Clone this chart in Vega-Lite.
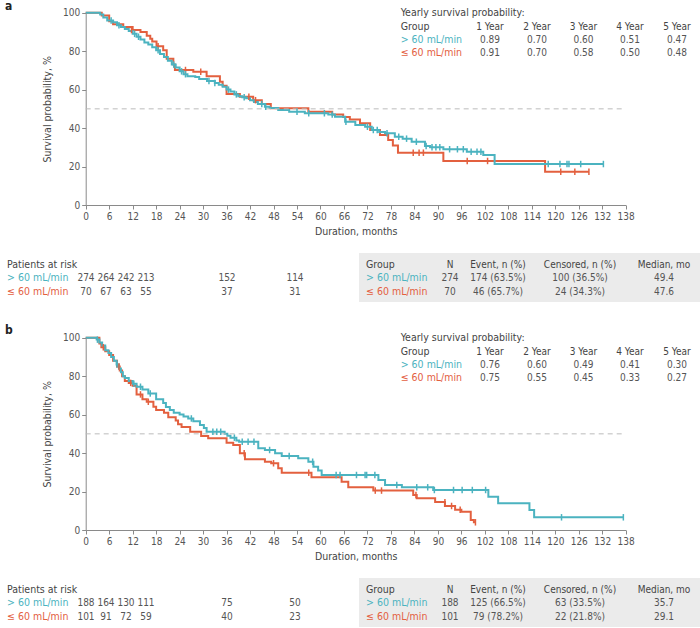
{
"$schema": "https://vega.github.io/schema/vega-lite/v6.json",
"width": 700, "height": 628,
"autosize": {"type": "none"},
"padding": 0,
"background": "white",
"config": {
 "font": "DejaVu Sans Condensed",
 "view": {"stroke": null},
 "axis": {"grid": false, "domainColor": "#8a8a8a", "tickColor": "#8a8a8a", "tickSize": 4, "labelColor": "#555555", "labelFontSize": 10, "titleFontSize": 10.5, "titleColor": "#444444", "titleFontWeight": "normal", "labelPadding": 2, "labelOverlap": false, "labelFlush": false, "labelBound": false}
},
"datasets": {
 "kmA": [
  {"g":"≤ 60 mL/min","m":0,"s":100},{"g":"≤ 60 mL/min","m":4.1,"s":98.5},{"g":"≤ 60 mL/min","m":6,"s":95.5},{"g":"≤ 60 mL/min","m":7,"s":94},{"g":"≤ 60 mL/min","m":9.6,"s":92.5},{"g":"≤ 60 mL/min","m":12,"s":91},{"g":"≤ 60 mL/min","m":14,"s":90},{"g":"≤ 60 mL/min","m":15.6,"s":88},{"g":"≤ 60 mL/min","m":16.5,"s":86.5},{"g":"≤ 60 mL/min","m":17,"s":85},{"g":"≤ 60 mL/min","m":18.1,"s":82.5},{"g":"≤ 60 mL/min","m":19.8,"s":80.5},{"g":"≤ 60 mL/min","m":20.7,"s":76},{"g":"≤ 60 mL/min","m":22.4,"s":73},{"g":"≤ 60 mL/min","m":22.8,"s":70.2},{"g":"≤ 60 mL/min","m":27.5,"s":69.3},{"g":"≤ 60 mL/min","m":30.9,"s":67},{"g":"≤ 60 mL/min","m":34.3,"s":64.1},{"g":"≤ 60 mL/min","m":35,"s":62},{"g":"≤ 60 mL/min","m":36,"s":57.7},{"g":"≤ 60 mL/min","m":39.4,"s":56.3},{"g":"≤ 60 mL/min","m":42.8,"s":54.5},{"g":"≤ 60 mL/min","m":45,"s":52.5},{"g":"≤ 60 mL/min","m":47.3,"s":50.3},{"g":"≤ 60 mL/min","m":56.9,"s":48.5},{"g":"≤ 60 mL/min","m":63,"s":47},{"g":"≤ 60 mL/min","m":65.8,"s":45.8},{"g":"≤ 60 mL/min","m":67.5,"s":44.5},{"g":"≤ 60 mL/min","m":70.1,"s":42.5},{"g":"≤ 60 mL/min","m":72.7,"s":39},{"g":"≤ 60 mL/min","m":75.2,"s":36.4},{"g":"≤ 60 mL/min","m":77.3,"s":33.8},{"g":"≤ 60 mL/min","m":78.5,"s":31},{"g":"≤ 60 mL/min","m":79.8,"s":27.2},{"g":"≤ 60 mL/min","m":91.4,"s":22.9},{"g":"≤ 60 mL/min","m":117.4,"s":17.3},{"g":"≤ 60 mL/min","m":128.6,"s":17.3},
  {"g":"> 60 mL/min","m":0,"s":100},{"g":"> 60 mL/min","m":3.7,"s":99},{"g":"> 60 mL/min","m":4.5,"s":97.5},{"g":"> 60 mL/min","m":5.5,"s":96},{"g":"> 60 mL/min","m":7,"s":95},{"g":"> 60 mL/min","m":8,"s":93.5},{"g":"> 60 mL/min","m":9,"s":92.5},{"g":"> 60 mL/min","m":10,"s":91.5},{"g":"> 60 mL/min","m":11,"s":90.5},{"g":"> 60 mL/min","m":12,"s":89},{"g":"> 60 mL/min","m":13,"s":87.5},{"g":"> 60 mL/min","m":14,"s":86},{"g":"> 60 mL/min","m":15,"s":84.5},{"g":"> 60 mL/min","m":16,"s":83.5},{"g":"> 60 mL/min","m":17,"s":82},{"g":"> 60 mL/min","m":18,"s":80.5},{"g":"> 60 mL/min","m":19,"s":78.5},{"g":"> 60 mL/min","m":20,"s":77},{"g":"> 60 mL/min","m":21,"s":75},{"g":"> 60 mL/min","m":22,"s":73},{"g":"> 60 mL/min","m":23,"s":71.5},{"g":"> 60 mL/min","m":24,"s":69.5},{"g":"> 60 mL/min","m":25,"s":68},{"g":"> 60 mL/min","m":26,"s":67},{"g":"> 60 mL/min","m":28,"s":66.5},{"g":"> 60 mL/min","m":29,"s":65.5},{"g":"> 60 mL/min","m":31,"s":64.5},{"g":"> 60 mL/min","m":33,"s":63.5},{"g":"> 60 mL/min","m":34,"s":62.5},{"g":"> 60 mL/min","m":35,"s":61.5},{"g":"> 60 mL/min","m":36,"s":60},{"g":"> 60 mL/min","m":37,"s":59},{"g":"> 60 mL/min","m":38,"s":57.5},{"g":"> 60 mL/min","m":39,"s":56.5},{"g":"> 60 mL/min","m":40,"s":56},{"g":"> 60 mL/min","m":41,"s":55.5},{"g":"> 60 mL/min","m":42,"s":54.5},{"g":"> 60 mL/min","m":43,"s":53.5},{"g":"> 60 mL/min","m":44,"s":52.5},{"g":"> 60 mL/min","m":45.8,"s":51.1},{"g":"> 60 mL/min","m":47,"s":50.5},{"g":"> 60 mL/min","m":49.2,"s":49.4},{"g":"> 60 mL/min","m":52,"s":48.5},{"g":"> 60 mL/min","m":56,"s":47.7},{"g":"> 60 mL/min","m":62,"s":47},{"g":"> 60 mL/min","m":63.7,"s":45.9},{"g":"> 60 mL/min","m":66.3,"s":43.3},{"g":"> 60 mL/min","m":68.9,"s":41.6},{"g":"> 60 mL/min","m":71.4,"s":40.7},{"g":"> 60 mL/min","m":73.1,"s":39},{"g":"> 60 mL/min","m":75,"s":38},{"g":"> 60 mL/min","m":76.5,"s":37.3},{"g":"> 60 mL/min","m":79,"s":35.5},{"g":"> 60 mL/min","m":81,"s":34.5},{"g":"> 60 mL/min","m":83.3,"s":32.9},{"g":"> 60 mL/min","m":86.7,"s":30.7},{"g":"> 60 mL/min","m":88,"s":30},{"g":"> 60 mL/min","m":91.4,"s":29},{"g":"> 60 mL/min","m":97.4,"s":27.7},{"g":"> 60 mL/min","m":101.6,"s":26},{"g":"> 60 mL/min","m":104.5,"s":21.3},{"g":"> 60 mL/min","m":132.3,"s":21.3}
 ],
 "cenA": [
  {"g":"≤ 60 mL/min","m":11.7,"s":91},{"g":"≤ 60 mL/min","m":18.5,"s":82.5},{"g":"≤ 60 mL/min","m":25.5,"s":70.2},{"g":"≤ 60 mL/min","m":29.4,"s":69.3},{"g":"≤ 60 mL/min","m":41.7,"s":56.3},{"g":"≤ 60 mL/min","m":43.4,"s":54.5},{"g":"≤ 60 mL/min","m":83.7,"s":27.2},{"g":"≤ 60 mL/min","m":85.2,"s":27.2},{"g":"≤ 60 mL/min","m":86.3,"s":27.2},{"g":"≤ 60 mL/min","m":97.5,"s":22.9},{"g":"≤ 60 mL/min","m":102.7,"s":22.9},{"g":"≤ 60 mL/min","m":121.4,"s":17.3},{"g":"≤ 60 mL/min","m":125,"s":17.3},{"g":"≤ 60 mL/min","m":128.6,"s":17.3},
  {"g":"> 60 mL/min","m":6.5,"s":96},{"g":"> 60 mL/min","m":8.5,"s":93.5},{"g":"> 60 mL/min","m":12.5,"s":89},{"g":"> 60 mL/min","m":13.5,"s":87.5},{"g":"> 60 mL/min","m":18.5,"s":80.5},{"g":"> 60 mL/min","m":22.5,"s":73},{"g":"> 60 mL/min","m":24.5,"s":69.5},{"g":"> 60 mL/min","m":25.5,"s":68},{"g":"> 60 mL/min","m":31.5,"s":64.5},{"g":"> 60 mL/min","m":33,"s":63.5},{"g":"> 60 mL/min","m":36.5,"s":60},{"g":"> 60 mL/min","m":38.5,"s":57.5},{"g":"> 60 mL/min","m":40.5,"s":56},{"g":"> 60 mL/min","m":45,"s":52.5},{"g":"> 60 mL/min","m":46,"s":51.1},{"g":"> 60 mL/min","m":54,"s":48.5},{"g":"> 60 mL/min","m":57,"s":47.7},{"g":"> 60 mL/min","m":61,"s":47.7},{"g":"> 60 mL/min","m":63,"s":47},{"g":"> 60 mL/min","m":66.5,"s":43.3},{"g":"> 60 mL/min","m":72,"s":40.7},{"g":"> 60 mL/min","m":73.5,"s":39},{"g":"> 60 mL/min","m":74.5,"s":39},{"g":"> 60 mL/min","m":77,"s":37.3},{"g":"> 60 mL/min","m":80,"s":35.5},{"g":"> 60 mL/min","m":82,"s":34.5},{"g":"> 60 mL/min","m":84.5,"s":32.9},{"g":"> 60 mL/min","m":87,"s":30.7},{"g":"> 60 mL/min","m":88.5,"s":30},{"g":"> 60 mL/min","m":89.5,"s":30},{"g":"> 60 mL/min","m":90.5,"s":30},{"g":"> 60 mL/min","m":93,"s":29},{"g":"> 60 mL/min","m":95,"s":29},{"g":"> 60 mL/min","m":96.5,"s":29},{"g":"> 60 mL/min","m":98.5,"s":27.7},{"g":"> 60 mL/min","m":100,"s":27.7},{"g":"> 60 mL/min","m":101,"s":27.7},{"g":"> 60 mL/min","m":118.2,"s":21.3},{"g":"> 60 mL/min","m":121.2,"s":21.3},{"g":"> 60 mL/min","m":123,"s":21.3},{"g":"> 60 mL/min","m":123.5,"s":21.3},{"g":"> 60 mL/min","m":126.5,"s":21.3},{"g":"> 60 mL/min","m":132.3,"s":21.3}
 ],
 "kmB": [
  {"g":"≤ 60 mL/min","m":0,"s":100},{"g":"≤ 60 mL/min","m":3.5,"s":97},{"g":"≤ 60 mL/min","m":4,"s":95},{"g":"≤ 60 mL/min","m":5,"s":93},{"g":"≤ 60 mL/min","m":6,"s":91},{"g":"≤ 60 mL/min","m":7,"s":88},{"g":"≤ 60 mL/min","m":8,"s":85},{"g":"≤ 60 mL/min","m":8.7,"s":83},{"g":"≤ 60 mL/min","m":9.3,"s":80},{"g":"≤ 60 mL/min","m":10,"s":77.5},{"g":"≤ 60 mL/min","m":11,"s":76.5},{"g":"≤ 60 mL/min","m":12,"s":75},{"g":"≤ 60 mL/min","m":13,"s":70.5},{"g":"≤ 60 mL/min","m":14.5,"s":68},{"g":"≤ 60 mL/min","m":15.6,"s":66.7},{"g":"≤ 60 mL/min","m":17.3,"s":64.1},{"g":"≤ 60 mL/min","m":18,"s":62.4},{"g":"≤ 60 mL/min","m":20,"s":61},{"g":"≤ 60 mL/min","m":21.1,"s":58.6},{"g":"≤ 60 mL/min","m":23,"s":57},{"g":"≤ 60 mL/min","m":23.6,"s":55},{"g":"≤ 60 mL/min","m":24.5,"s":53.5},{"g":"≤ 60 mL/min","m":26.7,"s":51.1},{"g":"≤ 60 mL/min","m":29.5,"s":48.9},{"g":"≤ 60 mL/min","m":31.3,"s":47.7},{"g":"≤ 60 mL/min","m":36,"s":45.4},{"g":"≤ 60 mL/min","m":37.7,"s":44.2},{"g":"≤ 60 mL/min","m":39.4,"s":39.9},{"g":"≤ 60 mL/min","m":40.7,"s":36.8},{"g":"≤ 60 mL/min","m":45.8,"s":35.5},{"g":"≤ 60 mL/min","m":47.4,"s":34.7},{"g":"≤ 60 mL/min","m":49.2,"s":32.1},{"g":"≤ 60 mL/min","m":50.1,"s":29.8},{"g":"≤ 60 mL/min","m":57.7,"s":27.4},{"g":"≤ 60 mL/min","m":65.4,"s":25.1},{"g":"≤ 60 mL/min","m":67.1,"s":22.2},{"g":"≤ 60 mL/min","m":73.5,"s":20.5},{"g":"≤ 60 mL/min","m":83.7,"s":18.2},{"g":"≤ 60 mL/min","m":84.6,"s":16.5},{"g":"≤ 60 mL/min","m":89.3,"s":14.5},{"g":"≤ 60 mL/min","m":91.8,"s":12.5},{"g":"≤ 60 mL/min","m":94.4,"s":10.5},{"g":"≤ 60 mL/min","m":96,"s":9.5},{"g":"≤ 60 mL/min","m":98.4,"s":5.2},{"g":"≤ 60 mL/min","m":99.2,"s":4},{"g":"≤ 60 mL/min","m":99.6,"s":4},
  {"g":"> 60 mL/min","m":0,"s":100},{"g":"> 60 mL/min","m":2.8,"s":99},{"g":"> 60 mL/min","m":3.5,"s":97.5},{"g":"> 60 mL/min","m":4.2,"s":96},{"g":"> 60 mL/min","m":5,"s":93.5},{"g":"> 60 mL/min","m":5.8,"s":92},{"g":"> 60 mL/min","m":6.5,"s":90},{"g":"> 60 mL/min","m":7.2,"s":88},{"g":"> 60 mL/min","m":7.9,"s":86},{"g":"> 60 mL/min","m":8.5,"s":84},{"g":"> 60 mL/min","m":9,"s":82},{"g":"> 60 mL/min","m":9.5,"s":80},{"g":"> 60 mL/min","m":10,"s":79},{"g":"> 60 mL/min","m":11,"s":77.5},{"g":"> 60 mL/min","m":12,"s":76},{"g":"> 60 mL/min","m":13,"s":74.5},{"g":"> 60 mL/min","m":14.5,"s":73},{"g":"> 60 mL/min","m":16,"s":71},{"g":"> 60 mL/min","m":18,"s":68},{"g":"> 60 mL/min","m":19.8,"s":66},{"g":"> 60 mL/min","m":20.5,"s":64},{"g":"> 60 mL/min","m":21.5,"s":62.4},{"g":"> 60 mL/min","m":22.5,"s":61},{"g":"> 60 mL/min","m":24,"s":60},{"g":"> 60 mL/min","m":25,"s":59},{"g":"> 60 mL/min","m":26.2,"s":58},{"g":"> 60 mL/min","m":27.5,"s":56.5},{"g":"> 60 mL/min","m":29.2,"s":54.6},{"g":"> 60 mL/min","m":30.2,"s":53},{"g":"> 60 mL/min","m":30.9,"s":51.1},{"g":"> 60 mL/min","m":35.5,"s":50},{"g":"> 60 mL/min","m":36.2,"s":49},{"g":"> 60 mL/min","m":37,"s":48},{"g":"> 60 mL/min","m":38.5,"s":46.5},{"g":"> 60 mL/min","m":39.2,"s":45.9},{"g":"> 60 mL/min","m":44.1,"s":42.5},{"g":"> 60 mL/min","m":45.8,"s":41.6},{"g":"> 60 mL/min","m":48.4,"s":39.9},{"g":"> 60 mL/min","m":50.1,"s":38.5},{"g":"> 60 mL/min","m":54.3,"s":37.3},{"g":"> 60 mL/min","m":56.9,"s":35.5},{"g":"> 60 mL/min","m":58.2,"s":32.9},{"g":"> 60 mL/min","m":59.4,"s":31},{"g":"> 60 mL/min","m":60.3,"s":28.6},{"g":"> 60 mL/min","m":74.8,"s":26},{"g":"> 60 mL/min","m":76.5,"s":23.4},{"g":"> 60 mL/min","m":80.8,"s":22.2},{"g":"> 60 mL/min","m":88.8,"s":20.8},{"g":"> 60 mL/min","m":102.9,"s":17.3},{"g":"> 60 mL/min","m":105.4,"s":13.9},{"g":"> 60 mL/min","m":113.4,"s":10.4},{"g":"> 60 mL/min","m":114.6,"s":6.6},{"g":"> 60 mL/min","m":137.4,"s":6.6}
 ],
 "cenB": [
  {"g":"≤ 60 mL/min","m":4.5,"s":95},{"g":"≤ 60 mL/min","m":8.5,"s":85},{"g":"≤ 60 mL/min","m":11.5,"s":76.5},{"g":"≤ 60 mL/min","m":14,"s":70.5},{"g":"≤ 60 mL/min","m":16,"s":66.7},{"g":"≤ 60 mL/min","m":40.5,"s":39.9},{"g":"≤ 60 mL/min","m":48,"s":34.7},{"g":"≤ 60 mL/min","m":57,"s":29.8},{"g":"≤ 60 mL/min","m":74,"s":20.5},{"g":"≤ 60 mL/min","m":75.6,"s":20.5},{"g":"≤ 60 mL/min","m":84.4,"s":18.2},{"g":"≤ 60 mL/min","m":91.8,"s":14.5},{"g":"≤ 60 mL/min","m":93.5,"s":12.5},{"g":"≤ 60 mL/min","m":95.7,"s":10.5},{"g":"≤ 60 mL/min","m":99.6,"s":4},
  {"g":"> 60 mL/min","m":3,"s":99},{"g":"> 60 mL/min","m":8,"s":86},{"g":"> 60 mL/min","m":12.3,"s":76},{"g":"> 60 mL/min","m":14,"s":74.5},{"g":"> 60 mL/min","m":16.5,"s":71},{"g":"> 60 mL/min","m":27,"s":58},{"g":"> 60 mL/min","m":32.5,"s":51.1},{"g":"> 60 mL/min","m":33.5,"s":51.1},{"g":"> 60 mL/min","m":34.5,"s":51.1},{"g":"> 60 mL/min","m":38,"s":48},{"g":"> 60 mL/min","m":40,"s":45.9},{"g":"> 60 mL/min","m":41.5,"s":45.9},{"g":"> 60 mL/min","m":43,"s":45.9},{"g":"> 60 mL/min","m":47,"s":41.6},{"g":"> 60 mL/min","m":52,"s":38.5},{"g":"> 60 mL/min","m":58,"s":35.5},{"g":"> 60 mL/min","m":64,"s":28.6},{"g":"> 60 mL/min","m":65,"s":28.6},{"g":"> 60 mL/min","m":69.2,"s":28.6},{"g":"> 60 mL/min","m":71.4,"s":28.6},{"g":"> 60 mL/min","m":71.8,"s":28.6},{"g":"> 60 mL/min","m":73.9,"s":28.6},{"g":"> 60 mL/min","m":79.5,"s":23.4},{"g":"> 60 mL/min","m":84.6,"s":22.2},{"g":"> 60 mL/min","m":87.4,"s":22.2},{"g":"> 60 mL/min","m":89.1,"s":20.8},{"g":"> 60 mL/min","m":94,"s":20.8},{"g":"> 60 mL/min","m":96.2,"s":20.8},{"g":"> 60 mL/min","m":98.8,"s":20.8},{"g":"> 60 mL/min","m":102.2,"s":20.8},{"g":"> 60 mL/min","m":121.6,"s":6.6},{"g":"> 60 mL/min","m":137.4,"s":6.6}
 ],
 "txt": [
  {"c":0,"r":0,"t":"a","k":"panel"},
  {"c":10,"r":1,"t":"Yearly survival probability:","k":"title"},
  {"c":10,"r":2,"t":"Group","k":"title"},
  {"c":12,"r":2,"t":"1 Year","k":"colhead"},{"c":14,"r":2,"t":"2 Year","k":"colhead"},{"c":16,"r":2,"t":"3 Year","k":"colhead"},{"c":17,"r":2,"t":"4 Year","k":"colhead"},{"c":19,"r":2,"t":"5 Year","k":"colhead"},
  {"c":10,"r":3,"t":"> 60 mL/min","k":"group","g":"> 60 mL/min"},
  {"c":10,"r":4,"t":"≤ 60 mL/min","k":"group","g":"≤ 60 mL/min"},
  {"c":12,"r":3,"t":"0.89","k":"value"},{"c":14,"r":3,"t":"0.70","k":"value"},{"c":16,"r":3,"t":"0.60","k":"value"},{"c":17,"r":3,"t":"0.51","k":"value"},{"c":19,"r":3,"t":"0.47","k":"value"},
  {"c":12,"r":4,"t":"0.91","k":"value"},{"c":14,"r":4,"t":"0.70","k":"value"},{"c":16,"r":4,"t":"0.58","k":"value"},{"c":17,"r":4,"t":"0.50","k":"value"},{"c":19,"r":4,"t":"0.48","k":"value"},
  {"c":1,"r":6,"t":"Patients at risk","k":"title"},
  {"c":1,"r":7,"t":"> 60 mL/min","k":"group","g":"> 60 mL/min"},
  {"c":1,"r":8,"t":"≤ 60 mL/min","k":"group","g":"≤ 60 mL/min"},
  {"c":2,"r":7,"t":"274","k":"value"},{"c":3,"r":7,"t":"264","k":"value"},{"c":4,"r":7,"t":"242","k":"value"},{"c":5,"r":7,"t":"213","k":"value"},{"c":6,"r":7,"t":"152","k":"value"},{"c":7,"r":7,"t":"114","k":"value"},
  {"c":2,"r":8,"t":"70","k":"value"},{"c":3,"r":8,"t":"67","k":"value"},{"c":4,"r":8,"t":"63","k":"value"},{"c":5,"r":8,"t":"55","k":"value"},{"c":6,"r":8,"t":"37","k":"value"},{"c":7,"r":8,"t":"31","k":"value"},
  {"c":9,"r":6,"t":"Group","k":"title"},
  {"c":11,"r":6,"t":"N","k":"colhead"},{"c":13,"r":6,"t":"Event, n (%)","k":"colhead"},{"c":15,"r":6,"t":"Censored, n (%)","k":"colhead"},{"c":18,"r":6,"t":"Median, mo","k":"colhead"},
  {"c":9,"r":7,"t":"> 60 mL/min","k":"group","g":"> 60 mL/min"},
  {"c":11,"r":7,"t":"274","k":"value"},{"c":13,"r":7,"t":"174 (63.5%)","k":"value"},{"c":15,"r":7,"t":"100 (36.5%)","k":"value"},{"c":18,"r":7,"t":"49.4","k":"value"},
  {"c":9,"r":8,"t":"≤ 60 mL/min","k":"group","g":"≤ 60 mL/min"},
  {"c":11,"r":8,"t":"70","k":"value"},{"c":13,"r":8,"t":"46 (65.7%)","k":"value"},{"c":15,"r":8,"t":"24 (34.3%)","k":"value"},{"c":18,"r":8,"t":"47.6","k":"value"},
  {"c":0,"r":10,"t":"b","k":"panel"},
  {"c":10,"r":11,"t":"Yearly survival probability:","k":"title"},
  {"c":10,"r":12,"t":"Group","k":"title"},
  {"c":12,"r":12,"t":"1 Year","k":"colhead"},{"c":14,"r":12,"t":"2 Year","k":"colhead"},{"c":16,"r":12,"t":"3 Year","k":"colhead"},{"c":17,"r":12,"t":"4 Year","k":"colhead"},{"c":19,"r":12,"t":"5 Year","k":"colhead"},
  {"c":10,"r":13,"t":"> 60 mL/min","k":"group","g":"> 60 mL/min"},
  {"c":10,"r":14,"t":"≤ 60 mL/min","k":"group","g":"≤ 60 mL/min"},
  {"c":12,"r":13,"t":"0.76","k":"value"},{"c":14,"r":13,"t":"0.60","k":"value"},{"c":16,"r":13,"t":"0.49","k":"value"},{"c":17,"r":13,"t":"0.41","k":"value"},{"c":19,"r":13,"t":"0.30","k":"value"},
  {"c":12,"r":14,"t":"0.75","k":"value"},{"c":14,"r":14,"t":"0.55","k":"value"},{"c":16,"r":14,"t":"0.45","k":"value"},{"c":17,"r":14,"t":"0.33","k":"value"},{"c":19,"r":14,"t":"0.27","k":"value"},
  {"c":1,"r":16,"t":"Patients at risk","k":"title"},
  {"c":1,"r":17,"t":"> 60 mL/min","k":"group","g":"> 60 mL/min"},
  {"c":1,"r":18,"t":"≤ 60 mL/min","k":"group","g":"≤ 60 mL/min"},
  {"c":2,"r":17,"t":"188","k":"value"},{"c":3,"r":17,"t":"164","k":"value"},{"c":4,"r":17,"t":"130","k":"value"},{"c":5,"r":17,"t":"111","k":"value"},{"c":6,"r":17,"t":"75","k":"value"},{"c":7,"r":17,"t":"50","k":"value"},
  {"c":2,"r":18,"t":"101","k":"value"},{"c":3,"r":18,"t":"91","k":"value"},{"c":4,"r":18,"t":"72","k":"value"},{"c":5,"r":18,"t":"59","k":"value"},{"c":6,"r":18,"t":"40","k":"value"},{"c":7,"r":18,"t":"23","k":"value"},
  {"c":9,"r":16,"t":"Group","k":"title"},
  {"c":11,"r":16,"t":"N","k":"colhead"},{"c":13,"r":16,"t":"Event, n (%)","k":"colhead"},{"c":15,"r":16,"t":"Censored, n (%)","k":"colhead"},{"c":18,"r":16,"t":"Median, mo","k":"colhead"},
  {"c":9,"r":17,"t":"> 60 mL/min","k":"group","g":"> 60 mL/min"},
  {"c":11,"r":17,"t":"188","k":"value"},{"c":13,"r":17,"t":"125 (66.5%)","k":"value"},{"c":15,"r":17,"t":"63 (33.5%)","k":"value"},{"c":18,"r":17,"t":"35.7","k":"value"},
  {"c":9,"r":18,"t":"≤ 60 mL/min","k":"group","g":"≤ 60 mL/min"},
  {"c":11,"r":18,"t":"101","k":"value"},{"c":13,"r":18,"t":"79 (78.2%)","k":"value"},{"c":15,"r":18,"t":"22 (21.8%)","k":"value"},{"c":18,"r":18,"t":"29.1","k":"value"}
 ],
 "boxes": [{"top":5,"bot":9},{"top":15,"bot":19}]
},
"layer": [
 {
  "layer": [
   {
    "data": {"name": "kmA"},
    "mark": {"type": "line", "interpolate": "step-after", "strokeWidth": 2},
    "encoding": {
     "x": {"field": "m", "type": "quantitative", "scale": {"domain": [0, 138], "range": [85.7, 625.7], "nice": false, "zero": false}, "axis": {"orient": "bottom", "offset": -423, "values": [0,6,12,18,24,30,36,42,48,54,60,66,72,78,84,90,96,102,108,114,120,126,132,138], "tickCount": 40, "title": "Duration, months", "titlePadding": 5, "labelOverlap": false, "labelFlush": false}},
     "y": {"field": "s", "type": "quantitative", "scale": {"domain": [0, 100], "range": [205, 12.7], "nice": false}, "axis": {"orient": "left", "offset": -85.7, "values": [0,20,40,60,80,100], "tickCount": 10, "title": "Survival probability, %", "titlePadding": 10, "labelOverlap": false}},
     "color": {"field": "g", "type": "nominal", "scale": {"domain": ["≤ 60 mL/min", "> 60 mL/min"], "range": ["#e3603f", "#4bb3c0"]}, "legend": null}
    }
   },
   {
    "data": {"values": [{}]},
    "mark": {"type": "rule", "strokeDash": [5, 4], "color": "#bbbbbb", "strokeWidth": 1},
    "encoding": {"x": {"datum": 0}, "x2": {"datum": 138}, "y": {"datum": 50}}
   },
   {
    "data": {"name": "cenA"},
    "mark": {"type": "point", "shape": "M0,-1V1", "size": 42, "strokeWidth": 1.5, "filled": false, "opacity": 1},
    "encoding": {
     "x": {"field": "m", "type": "quantitative"},
     "y": {"field": "s", "type": "quantitative"},
     "color": {"field": "g", "type": "nominal", "legend": null}
    }
   }
  ]
 },
 {
  "layer": [
   {
    "data": {"name": "kmB"},
    "mark": {"type": "line", "interpolate": "step-after", "strokeWidth": 2},
    "encoding": {
     "x": {"field": "m", "type": "quantitative", "scale": {"domain": [0, 138], "range": [85.7, 625.7], "nice": false, "zero": false}, "axis": {"orient": "bottom", "offset": -98, "values": [0,6,12,18,24,30,36,42,48,54,60,66,72,78,84,90,96,102,108,114,120,126,132,138], "tickCount": 40, "title": "Duration, months", "titlePadding": 5, "labelOverlap": false, "labelFlush": false}},
     "y": {"field": "s", "type": "quantitative", "scale": {"domain": [0, 100], "range": [530, 337.7], "nice": false}, "axis": {"orient": "left", "offset": -85.7, "values": [0,20,40,60,80,100], "tickCount": 10, "title": "Survival probability, %", "titlePadding": 10, "labelOverlap": false}},
     "color": {"field": "g", "type": "nominal", "legend": null}
    }
   },
   {
    "data": {"values": [{}]},
    "mark": {"type": "rule", "strokeDash": [5, 4], "color": "#bbbbbb", "strokeWidth": 1},
    "encoding": {"x": {"datum": 0}, "x2": {"datum": 138}, "y": {"datum": 50}}
   },
   {
    "data": {"name": "cenB"},
    "mark": {"type": "point", "shape": "M0,-1V1", "size": 42, "strokeWidth": 1.5, "filled": false, "opacity": 1},
    "encoding": {
     "x": {"field": "m", "type": "quantitative"},
     "y": {"field": "s", "type": "quantitative"},
     "color": {"field": "g", "type": "nominal", "legend": null}
    }
   }
  ]
 },
 {
  "layer": [
   {
    "data": {"name": "boxes"},
    "mark": {"type": "rect", "color": "#ebebeb"},
    "encoding": {
     "x": {"datum": 8, "type": "quantitative", "scale": {"domain": [0,1,2,3,4,5,6,7,8,9,10,11,12,13,14,15,16,17,18,19,20], "range": [5,7,86,106,126,146,227,295,359,366,400.7,450,490,498,537,580,583.5,630,664,677,700], "nice": false, "zero": false}, "axis": null},
     "x2": {"datum": 20},
     "y": {"field": "top", "type": "quantitative", "scale": {"domain": [0,1,2,3,4,5,6,7,8,9,10,11,12,13,14,15,16,17,18,19], "range": [10,13.3,26.7,39.5,52.5,253,264.7,278,292,302,334,338.3,351.7,364.5,377.5,578,589.7,603,617,627], "nice": false, "zero": false}, "axis": null},
     "y2": {"field": "bot"}
    }
   },
   {
    "data": {"name": "txt"},
    "transform": [{"filter": "datum.k === 'panel'"}],
    "mark": {"type": "text", "align": "left", "baseline": "alphabetic", "fontSize": 12, "fontWeight": "bold", "color": "#222222"},
    "encoding": {"x": {"field": "c", "type": "quantitative", "axis": null}, "y": {"field": "r", "type": "quantitative", "axis": null}, "text": {"field": "t"}}
   },
   {
    "data": {"name": "txt"},
    "transform": [{"filter": "datum.k === 'title'"}],
    "mark": {"type": "text", "align": "left", "baseline": "middle", "fontSize": 10.5, "color": "#444444"},
    "encoding": {"x": {"field": "c", "type": "quantitative", "axis": null}, "y": {"field": "r", "type": "quantitative", "axis": null}, "text": {"field": "t"}}
   },
   {
    "data": {"name": "txt"},
    "transform": [{"filter": "datum.k === 'group'"}],
    "mark": {"type": "text", "align": "left", "baseline": "middle", "fontSize": 10.5},
    "encoding": {"x": {"field": "c", "type": "quantitative", "axis": null}, "y": {"field": "r", "type": "quantitative", "axis": null}, "text": {"field": "t"}, "color": {"field": "g", "type": "nominal", "legend": null}}
   },
   {
    "data": {"name": "txt"},
    "transform": [{"filter": "datum.k === 'colhead'"}],
    "mark": {"type": "text", "align": "center", "baseline": "middle", "fontSize": 10, "color": "#444444"},
    "encoding": {"x": {"field": "c", "type": "quantitative", "axis": null}, "y": {"field": "r", "type": "quantitative", "axis": null}, "text": {"field": "t"}}
   },
   {
    "data": {"name": "txt"},
    "transform": [{"filter": "datum.k === 'value'"}],
    "mark": {"type": "text", "align": "center", "baseline": "middle", "fontSize": 10, "color": "#555555"},
    "encoding": {"x": {"field": "c", "type": "quantitative", "axis": null}, "y": {"field": "r", "type": "quantitative", "axis": null}, "text": {"field": "t"}}
   }
  ]
 }
],
"resolve": {"scale": {"x": "independent", "y": "independent"}}
}
